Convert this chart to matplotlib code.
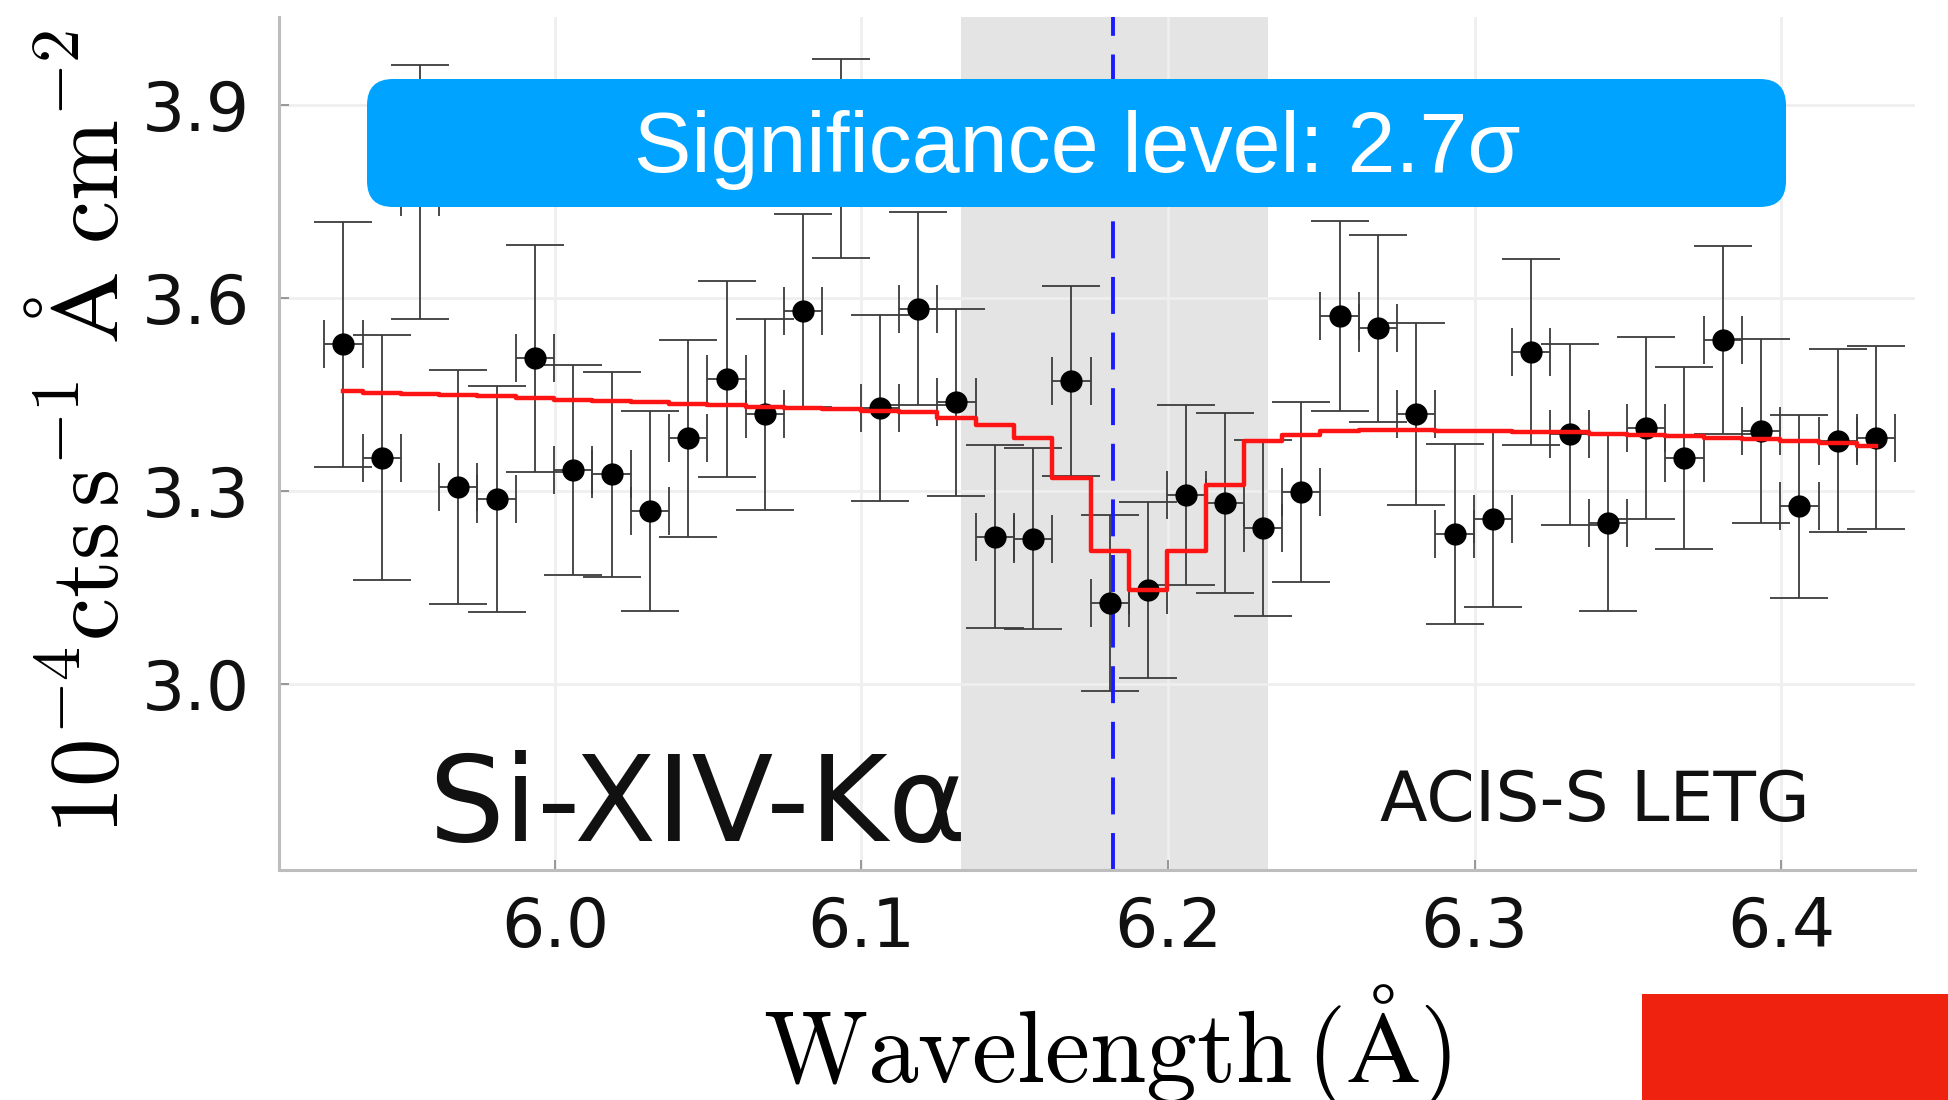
import numpy as np
import matplotlib
matplotlib.use("Agg")
import matplotlib.pyplot as plt
from matplotlib.patches import FancyBboxPatch, Rectangle

plt.rcParams['mathtext.fontset'] = 'cm'

# wavelength bin centres (Angstrom) and bin half-width
wave = [5.931, 5.9435, 5.956, 5.9685, 5.981, 5.9935, 6.006, 6.0185, 6.031, 6.0435,
        6.056, 6.0685, 6.081, 6.0935, 6.106, 6.1185, 6.131, 6.1435, 6.156, 6.1685,
        6.181, 6.1935, 6.206, 6.2185, 6.231, 6.2435, 6.256, 6.2685, 6.281, 6.2935,
        6.306, 6.3185, 6.331, 6.3435, 6.356, 6.3685, 6.381, 6.3935, 6.406, 6.4185,
        6.431]
half_bin = 0.00625

# observed flux (1e-4 cts/s/A/cm2) and 1-sigma errors
flux = [3.528, 3.352, 3.765, 3.306, 3.288, 3.506, 3.333, 3.326, 3.269, 3.382,
        3.474, 3.419, 3.580, 3.817, 3.429, 3.583, 3.438, 3.229, 3.226, 3.471,
        3.126, 3.146, 3.294, 3.282, 3.242, 3.298, 3.572, 3.553, 3.420, 3.233,
        3.257, 3.516, 3.388, 3.251, 3.398, 3.351, 3.535, 3.394, 3.276, 3.378,
        3.383]
flux_err = [0.19, 0.19, 0.197, 0.182, 0.176, 0.176, 0.163, 0.159, 0.155, 0.153,
            0.152, 0.148, 0.150, 0.155, 0.145, 0.150, 0.145, 0.142, 0.141, 0.148,
            0.137, 0.137, 0.140, 0.140, 0.137, 0.140, 0.147, 0.145, 0.141, 0.140,
            0.137, 0.145, 0.141, 0.137, 0.142, 0.141, 0.146, 0.143, 0.142, 0.142,
            0.142]

# model (absorption line fit), one value per bin
model = [3.455, 3.453, 3.451, 3.449, 3.447, 3.445, 3.442, 3.440, 3.438, 3.436,
         3.433, 3.431, 3.429, 3.427, 3.425, 3.423, 3.413, 3.403, 3.383, 3.320,
         3.206, 3.146, 3.206, 3.310, 3.377, 3.387, 3.393, 3.395, 3.395, 3.394,
         3.393, 3.392, 3.391, 3.389, 3.387, 3.385, 3.383, 3.381, 3.378, 3.374,
         3.370]

line_center = 6.182
line_window = (6.1325, 6.2325)
xticks = [6.0, 6.1, 6.2, 6.3, 6.4]
yticks = [3.0, 3.3, 3.6, 3.9]

W, H = 1948, 1100
fig = plt.figure(figsize=(W / 100, H / 100), dpi=100)
ax = fig.add_axes([279 / W, 1 - 870 / H, 1636 / W, 853 / H])

ax.axvspan(*line_window, color='#e4e4e4', lw=0, zorder=0)
ax.grid(True, color='#efefef', lw=2, zorder=0.5)

ax.errorbar(wave, flux, yerr=flux_err, fmt='none', ecolor='#3c3c3c',
            elinewidth=1.3, capsize=21, capthick=1.3, zorder=2)
ax.errorbar(wave, flux, xerr=half_bin, fmt='none', ecolor='#3c3c3c',
            elinewidth=1.3, capsize=17, capthick=1.3, zorder=2)
ax.axvline(line_center, color='#1a1aff', lw=2.8, ls=(0, (9.5, 4.8)), zorder=2.5)
ax.plot(wave, flux, 'o', color='black', ms=15, zorder=3)
ax.plot(wave, model, drawstyle='steps-mid', color='#ff1414', lw=3.2, zorder=4)

ax.set_xlim(5.910, 6.4437)
ax.set_ylim(2.7109, 4.0368)
ax.set_xticks(xticks)
ax.set_yticks(yticks)
ax.set_xticklabels([f"{v:.1f}" for v in xticks])
ax.set_yticklabels([f"{v:.1f}" for v in yticks])
ax.tick_params(direction='in', length=7, width=1.2, color='#888888',
               labelsize=49, labelcolor='#111111')
ax.tick_params(axis='y', pad=21)
ax.tick_params(axis='x', pad=18)
for s in ['top', 'right']:
    ax.spines[s].set_visible(False)
for s in ['left', 'bottom']:
    ax.spines[s].set_color('#bdbdbd')
    ax.spines[s].set_linewidth(2.2)

# axis titles
fig.text(1107 / W, 1 - 1082 / H, r'$\mathrm{Wavelength}\,(\mathrm{\AA})$',
         fontsize=73, ha='center', va='baseline')
fig.text(88 / W, 1 - 432 / H, r'$10^{-4}\mathrm{cts\,s^{-1}\ \AA\ cm^{-2}}$',
         fontsize=70, rotation=90, ha='center', va='center')

fig.text(428 / W, 1 - 841 / H, 'Si-XIV-Kα', fontsize=86,
         ha='left', va='baseline', color='#111111')
fig.text(1380 / W, 1 - 821 / H, 'ACIS-S LETG', fontsize=50,
         ha='left', va='baseline', color='#111111')

# highlighted banner
banner = FancyBboxPatch((3.67, 8.93), 14.19, 1.28,
                        boxstyle='round,pad=0,rounding_size=0.26',
                        transform=fig.dpi_scale_trans, facecolor='#00a3ff',
                        edgecolor='none', zorder=10)
fig.patches.append(banner)
fig.text(1077 / W, 1 - 172 / H, 'Significance level: 2.7σ',
         fontsize=62, color='white', ha='center', va='baseline',
         family=['Liberation Sans', 'DejaVu Sans'], zorder=11)

# red corner block
fig.patches.append(Rectangle((16.42, 0), 3.06, 1.06, transform=fig.dpi_scale_trans,
                             facecolor='#ee220e', edgecolor='none', zorder=10))

fig.savefig('out.png', dpi=100)
